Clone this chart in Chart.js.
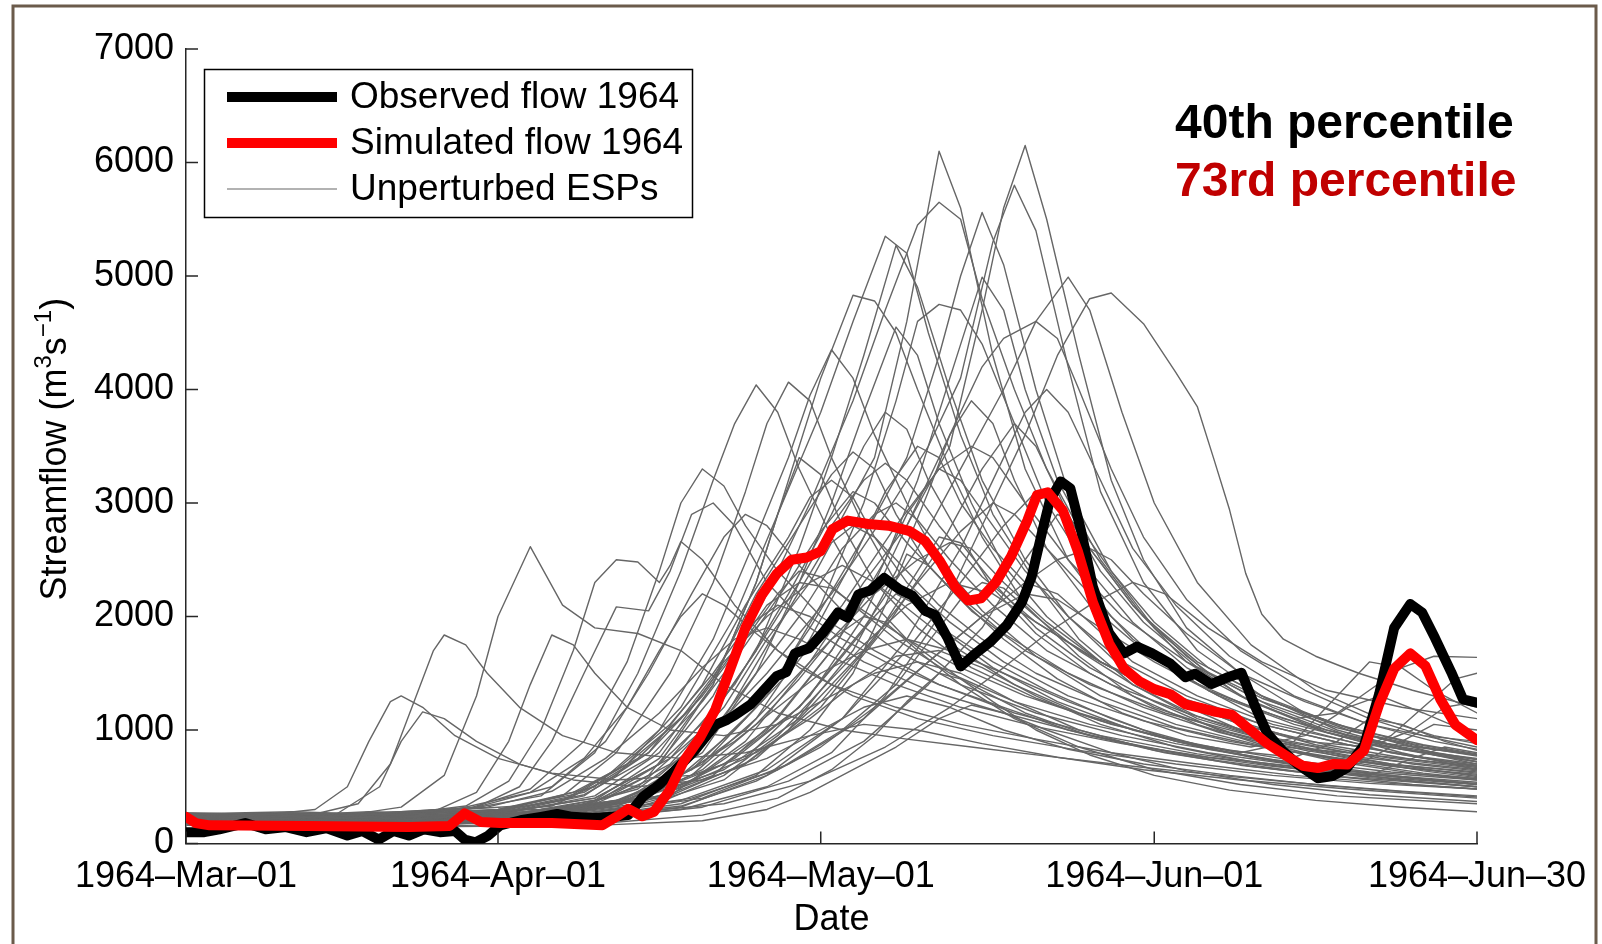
<!DOCTYPE html>
<html>
<head>
<meta charset="utf-8">
<script src="https://cdn.jsdelivr.net/npm/chart.js@4.4.0/dist/chart.umd.min.js"></script>
<style>
  html, body { margin: 0; padding: 0; background: #fff; }
  #wrap { width: 1602px; height: 944px; }
</style>
</head>
<body>
<div id="wrap"><canvas id="flow-chart" width="1602" height="944"></canvas></div>
<script>
// x values are days counted from the left edge of the plot
const xTickDays = [0, 29, 59, 90, 120];
const xTickLabels = ['1964–Mar–01', '1964–Apr–01', '1964–May–01', '1964–Jun–01', '1964–Jun–30'];
const yTicks = [0, 1000, 2000, 3000, 4000, 5000, 6000, 7000];

// observed flow 1964
const obsDays = [0, 1.7, 3.1, 5.5, 7.4, 9.3, 11.2, 13.1, 15, 16.4, 17.9, 19.3, 20.7, 22.1, 23.6, 25, 25.9, 26.9, 28.1, 29.2,
  31.1, 33, 34.5, 35.9, 37.8, 39.7, 41.1, 42.5, 44, 45.4, 47.3, 49.2, 50.3, 51.1, 52.5, 53.5, 54.9, 55.8, 56.6, 57.9,
  59.2, 60.6, 61.5, 62.5, 63.6, 64.9, 66.3, 67.5, 68.7, 69.6, 70.8, 72, 73.4, 74.8, 76.3, 77.7, 78.6, 79.6, 80.3, 81.3,
  82.2, 83.2, 84.3, 85.8, 87.2, 88.4, 89.8, 91.5, 92.9, 93.8, 95.3, 96.7, 98.1, 99.3, 100.5, 101.9, 103.3, 105.2, 106.6, 107.9,
  109.5, 110.9, 112.3, 113.8, 114.9, 116.1, 117.6, 118.7, 120];
const obsFlow = [100, 100, 125, 180, 125, 145, 100, 135, 70, 110, 35, 110, 70, 125, 100, 110, 35, 10, 70, 160,
  205, 235, 260, 235, 225, 235, 250, 415, 520, 640, 820, 1045, 1090, 1135, 1225, 1330, 1475, 1510, 1675, 1720,
  1855, 2035, 1990, 2195, 2230, 2340, 2240, 2185, 2050, 2015, 1810, 1560, 1675, 1780, 1925, 2125, 2350, 2755, 3025, 3190,
  3130, 2755, 2260, 1855, 1675, 1735, 1675, 1585, 1465, 1495, 1405, 1460, 1505, 1225, 970, 820, 700, 575, 595, 665,
  865, 1315, 1900, 2110, 2035, 1810, 1510, 1270, 1240];

// simulated flow 1964
const simDays = [0, 0.9, 2.2, 11.2, 20.7, 24.5, 25.9, 27.4, 29.2, 34, 38.7, 40, 41.1, 42.4, 43.5, 44.9, 46.3, 47.8, 49.2, 50.6,
  52, 53.5, 54.9, 56.3, 57.7, 59, 60.1, 61.5, 63.4, 65.3, 67.2, 68.7, 70.1, 71.5, 72.7, 73.9, 75.3, 76.7, 78.2, 79.1,
  80.1, 81.5, 82.9, 84.3, 85.8, 87.2, 88.6, 90, 91.5, 92.9, 94.3, 95.7, 97.2, 98.6, 100.5, 102.4, 103.8, 105.2, 106.6, 108,
  109.5, 110.9, 112.3, 113.8, 115.2, 116.6, 118, 120];
const simFlow = [235, 180, 160, 155, 145, 155, 265, 190, 180, 180, 160, 235, 305, 240, 280, 460, 730, 935, 1180, 1540,
  1900, 2185, 2375, 2500, 2520, 2575, 2770, 2845, 2815, 2800, 2755, 2665, 2485, 2260, 2140, 2160, 2305, 2530, 2845, 3070,
  3095, 2935, 2575, 2125, 1765, 1540, 1430, 1360, 1315, 1225, 1195, 1160, 1135, 1025, 880, 765, 685, 665, 700, 695,
  820, 1225, 1540, 1675, 1565, 1270, 1045, 910];

// unperturbed ESP traces, [day, flow] pairs
const espRuns = [
  [[0,210],[8,190],[16,230],[24,200],[32,260],[38,300],[44,520],[50,1100],[55,1900],[60,2700],[64,3400],[67,4600],[70,6100],[72,5600],[75,4300],[78,3300],[82,2500],[86,2000],[90,1650],[95,1350],[100,1100],[106,950],[112,800],[120,680]],
  [[0,180],[10,170],[20,200],[30,190],[38,240],[45,420],[52,900],[58,1600],[63,2300],[67,2800],[71,3500],[74,4700],[76,5600],[78,6150],[80,5500],[83,4300],[86,3200],[89,2500],[93,1900],[98,1500],[104,1150],[110,950],[116,800],[120,720]],
  [[0,240],[9,220],[18,260],[27,230],[35,300],[42,480],[48,900],[54,1500],[60,2200],[65,2900],[69,3500],[72,4100],[75,5300],[77,5800],[79,5400],[82,4200],[85,3100],[89,2300],[94,1700],[100,1300],[107,1000],[114,820],[120,700]],
  [[0,200],[10,220],[20,180],[30,250],[37,330],[43,600],[49,1300],[54,2200],[58,3000],[62,3900],[65,4700],[68,5450],[70,5650],[72,5500],[74,4800],[77,4000],[80,3300],[84,2600],[88,2100],[93,1600],[99,1250],[106,980],[113,800],[120,650]],
  [[0,260],[8,240],[17,280],[26,250],[34,330],[40,600],[46,1200],[51,2000],[55,2900],[59,3800],[62,4600],[65,5350],[67,5200],[69,4500],[72,3600],[75,2900],[79,2300],[83,1800],[88,1400],[94,1100],[101,900],[108,750],[115,640],[120,580]],
  [[0,190],[9,210],[18,190],[27,220],[35,280],[42,500],[48,1000],[53,1700],[57,2600],[60,3400],[63,4300],[66,5270],[68,4900],[71,4000],[74,3200],[78,2500],[82,2000],[87,1550],[92,1250],[98,1000],[105,820],[112,700],[120,590]],
  [[0,230],[11,210],[22,240],[32,280],[40,380],[47,650],[53,1200],[58,1900],[63,2700],[67,3400],[70,4300],[72,5000],[74,5560],[76,5100],[79,4000],[82,3100],[86,2400],[90,1900],[95,1500],[101,1200],[108,950],[115,800],[120,720]],
  [[0,200],[12,180],[24,210],[34,260],[42,400],[50,700],[57,1200],[63,1900],[68,2600],[72,3300],[76,4000],[79,4600],[82,4990],[84,4700],[87,3800],[90,3000],[94,2300],[99,1750],[105,1350],[111,1100],[116,950],[120,880]],
  [[0,170],[12,190],[24,170],[36,220],[46,300],[54,500],[60,800],[65,1300],[70,2000],[74,2800],[78,3600],[81,4300],[84,4800],[86,4850],[89,4580],[92,4150],[94,3850],[95.5,3400],[97,2940],[98.5,2380],[100,2020],[102,1800],[105,1650],[109,1500],[114,1350],[120,1200]],
  [[0,220],[10,240],[20,210],[30,260],[38,360],[44,700],[49,1400],[53,2300],[56,3200],[59,4100],[62,4830],[64,4780],[66,4500],[68,4000],[71,3300],[74,2700],[78,2100],[83,1650],[88,1300],[94,1050],[100,870],[107,720],[114,620],[120,560]],
  [[0,250],[9,230],[18,260],[26,300],[33,420],[38,800],[42,1500],[46,2400],[49,3200],[51,3700],[53,4040],[55,3800],[57,3300],[60,2700],[63,2200],[67,1800],[72,1450],[78,1150],[84,950],[91,800],[99,680],[107,590],[114,520],[120,480]],
  [[0,200],[10,190],[20,220],[28,270],[35,420],[40,800],[45,1500],[49,2300],[52,3100],[54,3700],[56,4065],[58,3900],[60,3400],[63,2800],[66,2300],[70,1900],[75,1550],[81,1250],[88,1000],[95,830],[103,700],[111,600],[120,520]],
  [[0,270],[11,250],[22,280],[31,330],[38,500],[44,1000],[49,1800],[53,2700],[56,3400],[58,3950],[60,4350],[62,4100],[64,3600],[67,3000],[70,2500],[74,2050],[79,1650],[85,1300],[92,1050],[100,860],[108,720],[115,620],[120,570]],
  [[0,190],[10,210],[21,190],[31,240],[40,330],[47,550],[54,1000],[60,1700],[65,2500],[68,3200],[71,4100],[74,4990],[76,4700],[78,4000],[81,3200],[85,2500],[89,2000],[94,1600],[100,1300],[107,1050],[114,880],[120,780]],
  [[0,230],[12,210],[24,250],[35,290],[44,420],[52,750],[58,1300],[63,2000],[67,2800],[71,3600],[74,4200],[76,4450],[79,4600],[81,4450],[83,4000],[86,3300],[89,2700],[93,2150],[98,1700],[104,1350],[110,1100],[115,950],[120,850]],
  [[0,210],[11,230],[22,200],[33,260],[41,380],[48,700],[54,1300],[59,2100],[63,3000],[66,3900],[68,4600],[70,4750],[72,4700],[74,4400],[77,3700],[80,3000],[84,2400],[88,1950],[93,1550],[99,1250],[106,1000],[113,850],[120,740]],
  [[0,240],[10,260],[20,230],[30,280],[38,400],[45,750],[51,1400],[56,2200],[60,2900],[63,3500],[65,3800],[67,3650],[69,3200],[72,2700],[75,2250],[79,1850],[84,1500],[90,1200],[97,980],[104,820],[112,700],[120,620]],
  [[0,170],[12,190],[24,170],[36,210],[46,320],[54,600],[61,1100],[67,1800],[72,2600],[76,3400],[78,3800],[80,4000],[82,3800],[85,3200],[88,2600],[92,2100],[97,1650],[103,1300],[110,1050],[116,900],[120,830]],
  [[0,230],[8,210],[15,250],[20,320],[24,600],[27,1300],[29,2000],[32,2615],[35,2100],[38,1900],[42,1850],[46,1700],[50,1400],[55,1150],[61,1000],[67,920],[73,850],[80,770],[88,680],[96,600],[105,520],[113,460],[120,420]],
  [[0,250],[6,230],[12,260],[16,350],[19,700],[21,1200],[23,1700],[24,1837],[26,1750],[28,1500],[31,1200],[35,950],[40,800],[46,750],[52,800],[58,950],[63,1050],[68,1000],[74,880],[81,760],[89,650],[98,560],[108,480],[120,400]],
  [[0,200],[8,220],[14,260],[18,500],[20,900],[22,1160],[24,1100],[27,900],[31,700],[36,560],[42,500],[48,560],[54,750],[59,1000],[63,1200],[67,1300],[71,1200],[76,1000],[82,830],[89,700],[97,600],[106,510],[114,450],[120,410]],
  [[0,220],[9,240],[17,220],[23,280],[27,450],[30,900],[32,1400],[34,1837],[36,1750],[38,1500],[41,1200],[45,1000],[50,950],[55,1050],[60,1300],[64,1500],[68,1600],[72,1500],[77,1250],[83,1000],[90,820],[98,690],[107,590],[120,500]],
  [[0,210],[10,230],[20,260],[26,330],[30,550],[33,1000],[36,1700],[38,2300],[40,2500],[42,2480],[44,2300],[45,2450],[46,2660],[48,2500],[51,2100],[55,1700],[60,1400],[66,1200],[72,1050],[79,920],[86,800],[94,700],[103,600],[112,530],[120,480]],
  [[0,240],[10,220],[20,250],[27,320],[31,500],[34,900],[37,1500],[40,2085],[43,2050],[45,2400],[47,2900],[49,3000],[51,2800],[54,2300],[58,1900],[63,1600],[69,1350],[76,1150],[84,950],[92,800],[101,680],[110,590],[120,520]],
  [[0,230],[7,250],[12,300],[15,500],[17,900],[19,1250],[20,1300],[22,1200],[25,950],[29,750],[34,620],[40,560],[47,600],[53,800],[58,1100],[62,1400],[66,1650],[70,1700],[74,1550],[79,1300],[85,1050],[92,850],[100,700],[110,580],[120,500]],
  [[0,200],[12,220],[24,200],[34,250],[42,350],[49,600],[55,1100],[60,1700],[64,2300],[67,2900],[70,3300],[72,3200],[75,2800],[78,2400],[82,2000],[87,1600],[93,1300],[100,1050],[108,870],[115,760],[120,700]],
  [[0,260],[11,240],[22,270],[33,300],[42,400],[50,650],[57,1100],[63,1700],[68,2300],[72,2750],[75,3000],[77,2900],[80,2600],[84,2200],[88,1800],[93,1450],[99,1200],[106,980],[113,830],[120,740]],
  [[0,190],[10,170],[20,200],[31,230],[40,330],[47,600],[53,1100],[58,1800],[62,2500],[65,3100],[68,3500],[70,3400],[72,3000],[75,2600],[78,2300],[81,2200],[84,1950],[88,1600],[94,1300],[101,1050],[109,880],[120,750]],
  [[0,220],[11,240],[21,220],[31,270],[39,400],[45,700],[50,1200],[54,1800],[58,2300],[60,2650],[62,2800],[64,2700],[67,2400],[70,2100],[74,1800],[79,1500],[85,1250],[92,1020],[100,850],[109,720],[120,630]],
  [[0,180],[11,200],[22,180],[33,230],[42,320],[50,560],[56,1000],[62,1700],[66,2400],[69,3100],[71,3600],[73,3900],[75,3700],[77,3200],[80,2600],[84,2100],[89,1700],[95,1350],[102,1100],[110,900],[120,780]],
  [[0,250],[10,270],[20,250],[29,300],[37,450],[43,800],[48,1300],[52,1800],[55,2200],[57,2400],[59,2350],[62,2100],[66,1800],[71,1500],[77,1250],[84,1050],[92,880],[101,740],[110,630],[120,560]],
  [[0,210],[9,190],[19,220],[29,260],[37,420],[43,800],[48,1400],[52,2100],[56,2700],[58,3050],[60,3200],[62,3050],[64,2700],[67,2300],[71,1950],[76,1600],[82,1300],[89,1080],[97,900],[106,760],[114,660],[120,610]],
  [[0,230],[12,210],[24,240],[35,280],[44,420],[51,750],[57,1200],[61,1650],[64,2000],[66,2200],[68,2100],[71,1850],[75,1600],[80,1350],[86,1100],[92,900],[98,800],[103,900],[107,1300],[110,1600],[113,1550],[116,1350],[120,1150]],
  [[0,200],[13,180],[26,210],[38,260],[48,400],[56,700],[63,1100],[69,1600],[74,2000],[78,2300],[81,2500],[84,2600],[86,2500],[89,2200],[93,1850],[98,1500],[104,1250],[110,1050],[115,950],[120,900]],
  [[0,240],[12,220],[24,250],[35,290],[44,400],[52,700],[59,1200],[65,1900],[70,2600],[74,3300],[77,3700],[79,3500],[82,2900],[85,2400],[89,1950],[94,1550],[100,1250],[107,1020],[114,860],[120,770]],
  [[0,260],[9,240],[18,270],[27,320],[34,500],[39,900],[43,1500],[47,2200],[50,2700],[52,2900],[54,2800],[57,2450],[61,2050],[66,1700],[72,1400],[79,1150],[87,950],[95,800],[104,680],[113,590],[120,540]],
  [[0,190],[10,210],[20,190],[30,240],[38,380],[44,750],[49,1400],[53,2300],[55,2900],[57,3400],[59,3250],[61,2800],[64,2300],[68,1900],[73,1550],[79,1280],[86,1050],[94,870],[103,730],[112,630],[120,570]],
  [[0,210],[12,230],[25,210],[37,260],[47,400],[55,650],[61,1000],[66,1400],[70,1900],[72,2150],[74,2300],[76,2250],[79,2000],[83,1700],[88,1400],[94,1120],[101,900],[109,760],[120,650]],
  [[0,170],[12,160],[25,150],[38,160],[48,200],[54,300],[58,450],[62,650],[66,850],[70,1100],[73,1220],[76,1150],[80,1000],[86,800],[93,640],[101,520],[110,430],[120,370]],
  [[0,160],[13,150],[26,160],[39,180],[48,250],[55,400],[60,650],[64,950],[67,1250],[70,1500],[72,1450],[75,1250],[79,1000],[84,780],[90,600],[97,470],[105,380],[113,320],[120,280]],
  [[0,200],[11,180],[23,200],[34,240],[42,380],[48,650],[53,1050],[57,1450],[60,1800],[63,2000],[65,1950],[68,1700],[72,1400],[77,1100],[83,850],[90,650],[98,520],[107,420],[120,350]],
  [[0,220],[12,240],[24,220],[36,270],[46,380],[54,650],[61,1100],[67,1700],[72,2300],[76,2800],[79,3100],[81,3000],[84,2600],[88,2100],[93,1650],[98,1300],[103,1100],[107,1150],[110,1350],[113,1550],[116,1650],[120,1640]],
  [[0,240],[12,220],[24,240],[36,290],[45,420],[53,750],[59,1250],[64,1800],[68,2400],[70,2700],[72,2650],[75,2300],[79,1900],[84,1550],[90,1250],[96,1000],[102,850],[108,800],[112,950],[115,1200],[118,1450],[120,1500]],
  [[0,230],[10,210],[20,240],[30,270],[38,420],[44,800],[49,1450],[53,2200],[57,2800],[60,3250],[62,3450],[64,3300],[66,2900],[69,2450],[73,2050],[78,1700],[84,1400],[91,1150],[99,950],[108,800],[120,680]],
  [[0,250],[9,270],[18,250],[25,300],[32,450],[37,750],[41,1200],[44,1700],[46,2000],[48,2200],[50,2100],[53,1850],[57,1550],[62,1300],[68,1100],[75,950],[83,820],[92,700],[101,600],[110,530],[120,480]],
  [[0,190],[12,200],[25,180],[37,230],[46,350],[53,600],[58,1000],[62,1500],[65,2100],[67,2550],[69,2450],[72,2150],[76,1800],[81,1450],[87,1150],[93,950],[99,850],[104,950],[108,1200],[111,1300],[115,1150],[120,950]],
  [[0,220],[11,200],[22,230],[33,260],[41,400],[48,800],[53,1500],[57,2300],[60,3000],[63,3800],[66,4550],[68,4300],[70,3700],[73,3000],[76,2450],[80,2000],[85,1600],[91,1300],[98,1050],[106,870],[114,740],[120,670]],
  [[0,240],[9,220],[18,250],[26,300],[32,480],[37,900],[41,1600],[44,2400],[46,3000],[48,3300],[50,3150],[52,2800],[55,2400],[59,2000],[64,1700],[70,1400],[77,1150],[85,950],[94,790],[104,660],[113,580],[120,530]],
  [[0,210],[13,230],[26,210],[39,250],[50,350],[58,550],[65,850],[71,1200],[76,1550],[80,1850],[84,2100],[88,2300],[91,2200],[95,1900],[100,1600],[106,1350],[113,1200],[120,1100]],
  [[0,180],[13,200],[26,180],[38,220],[48,320],[56,550],[63,900],[69,1400],[74,1900],[78,2500],[81,2900],[83,2800],[86,2400],[90,1950],[95,1550],[101,1250],[108,1000],[115,850],[120,780]],
  [[0,260],[10,280],[20,250],[30,300],[36,420],[41,700],[46,1100],[50,1600],[54,2000],[58,2300],[61,2450],[64,2300],[68,2000],[72,1700],[77,1400],[83,1150],[90,950],[97,820],[103,760],[107,900],[110,1100],[113,1050],[117,900],[120,820]],
  [[0,200],[10,180],[20,210],[30,250],[38,350],[44,600],[49,1000],[53,1500],[57,2000],[61,2600],[64,2900],[66,3000],[68,2850],[71,2500],[75,2100],[80,1700],[86,1400],[93,1150],[100,950],[107,820],[114,700],[120,640]],
  [[0,230],[9,250],[19,230],[28,280],[35,380],[40,650],[45,1050],[49,1500],[52,1900],[55,2100],[58,2000],[61,1800],[65,1600],[70,1400],[76,1200],[82,1000],[89,850],[96,730],[103,640],[110,600],[114,750],[117,850],[120,800]],
  [[0,210],[11,230],[22,210],[33,260],[41,380],[47,650],[52,1000],[56,1400],[60,1800],[64,2200],[68,2500],[71,2650],[73,2600],[76,2300],[80,1950],[85,1600],[91,1300],[98,1050],[105,870],[112,750],[120,660]],
  [[0,250],[10,230],[20,260],[29,300],[36,450],[42,750],[47,1200],[51,1700],[54,2100],[57,2300],[60,2250],[63,2050],[67,1800],[72,1550],[78,1300],[85,1080],[92,900],[99,760],[106,650],[113,560],[120,500]],
  [[0,190],[12,210],[24,190],[35,240],[44,360],[50,600],[55,950],[59,1350],[63,1750],[67,2100],[71,2300],[75,2200],[79,1950],[84,1650],[90,1350],[97,1100],[104,900],[110,850],[114,1000],[117,1200],[120,1250]],
  [[0,240],[10,260],[20,240],[30,290],[37,430],[43,750],[48,1250],[52,1750],[56,2300],[59,2750],[62,3100],[64,3000],[67,2650],[71,2250],[76,1850],[82,1500],[89,1200],[96,980],[104,800],[112,680],[120,600]],
  [[0,220],[11,200],[22,230],[32,260],[40,370],[46,600],[51,900],[55,1200],[59,1500],[63,1700],[67,1800],[71,1700],[76,1500],[82,1250],[89,1000],[96,820],[103,700],[110,620],[116,560],[120,520]],
  [[0,200],[11,220],[22,200],[32,240],[40,350],[46,600],[51,1000],[56,1500],[61,2100],[66,2800],[70,3300],[73,3500],[75,3400],[78,3000],[82,2500],[87,2000],[93,1600],[100,1280],[108,1020],[115,870],[120,790]],
  [[0,270],[10,250],[20,280],[28,320],[34,460],[39,750],[44,1150],[48,1550],[51,1800],[54,1900],[57,1800],[61,1600],[66,1400],[72,1200],[79,1030],[87,880],[95,760],[103,680],[109,700],[113,900],[116,1050],[120,1000]],
  [[0,180],[12,170],[24,190],[36,220],[46,330],[53,550],[59,850],[64,1200],[69,1600],[74,2000],[78,2200],[81,2150],[85,1900],[90,1600],[96,1300],[103,1050],[110,880],[116,780],[120,720]],
  [[0,230],[10,210],[20,240],[30,280],[38,400],[44,700],[49,1150],[53,1700],[57,2300],[60,2800],[63,3200],[65,3350],[67,3200],[70,2800],[74,2350],[79,1950],[85,1600],[92,1300],[100,1050],[108,870],[115,750],[120,690]]
];

const FONT = "'Liberation Sans', Arial, Helvetica, sans-serif";

function toPoints(days, flows) {
  return days.map((d, i) => ({ x: d, y: flows[i] }));
}

const simSet = {
  label: 'Simulated flow 1964',
  data: toPoints(simDays, simFlow),
  borderColor: '#ff0000',
  borderWidth: 10
};
const obsSet = {
  label: 'Observed flow 1964',
  data: toPoints(obsDays, obsFlow),
  borderColor: '#000000',
  borderWidth: 10
};
const espSets = espRuns.map(run => ({
  label: 'Unperturbed ESPs',
  data: run.map(p => ({ x: p[0], y: p[1] })),
  borderColor: '#666666',
  borderWidth: 1.4
}));

// inward ticks, legend box, labels and the frame
const decor = {
  id: 'decor',
  beforeDraw(chart) {
    const ctx = chart.ctx;
    ctx.save();
    ctx.fillStyle = '#fff';
    ctx.fillRect(0, 0, chart.width, chart.height);
    ctx.restore();
  },
  afterDraw(chart) {
    const { ctx, chartArea } = chart;
    const xs = chart.scales.x, ys = chart.scales.y;
    ctx.save();

    // tick marks pointing into the plot
    ctx.strokeStyle = '#262626';
    ctx.lineWidth = 1.5;
    ctx.beginPath();
    yTicks.forEach(v => {
      const py = ys.getPixelForValue(v);
      ctx.moveTo(chartArea.left, py);
      ctx.lineTo(chartArea.left + 12, py);
    });
    xTickDays.forEach(d => {
      const px = xs.getPixelForValue(d);
      ctx.moveTo(px, chartArea.bottom);
      ctx.lineTo(px, chartArea.bottom - 12);
    });
    ctx.stroke();

    // legend
    const rows = [obsSet, simSet, espSets[0]];
    ctx.fillStyle = '#fff';
    ctx.fillRect(204, 69, 488, 148);
    ctx.strokeStyle = '#000';
    ctx.lineWidth = 1.5;
    ctx.strokeRect(204.5, 69.5, 488, 148);
    ctx.font = '37px ' + FONT;
    ctx.textBaseline = 'middle';
    ctx.textAlign = 'left';
    rows.forEach((ds, i) => {
      const ry = 97 + i * 46;
      ctx.strokeStyle = ds.borderColor;
      ctx.lineWidth = ds.borderWidth === 1.4 ? 1.2 : ds.borderWidth;
      ctx.lineCap = 'butt';
      ctx.beginPath();
      ctx.moveTo(227, ry);
      ctx.lineTo(337, ry);
      ctx.stroke();
      ctx.fillStyle = '#000';
      ctx.fillText(ds.label, 350, ry + 1);
    });

    // percentile notes
    ctx.font = 'bold 48px ' + FONT;
    ctx.fillStyle = '#000';
    ctx.fillText('40th percentile', 1175, 125);
    ctx.fillStyle = '#c00000';
    ctx.fillText('73rd percentile', 1175, 183);

    // axis titles
    ctx.fillStyle = '#000';
    ctx.font = '36px ' + FONT;
    ctx.textAlign = 'center';
    ctx.fillText('Date', (chartArea.left + chartArea.right) / 2, 920);

    const parts = [
      { t: 'Streamflow (m', size: 36, rise: 0 },
      { t: '3', size: 24, rise: 15 },
      { t: 's', size: 36, rise: 0 },
      { t: '−1', size: 24, rise: 15 },
      { t: ')', size: 36, rise: 0 }
    ];
    let total = 0;
    parts.forEach(p => { ctx.font = p.size + 'px ' + FONT; p.w = ctx.measureText(p.t).width; total += p.w; });
    ctx.translate(66, (chartArea.top + chartArea.bottom) / 2 + 3);
    ctx.rotate(-Math.PI / 2);
    ctx.textAlign = 'left';
    ctx.textBaseline = 'alphabetic';
    let u = -total / 2;
    parts.forEach(p => {
      ctx.font = p.size + 'px ' + FONT;
      ctx.fillText(p.t, u, -p.rise);
      u += p.w;
    });
    ctx.setTransform(1, 0, 0, 1, 0, 0);

    // picture frame
    ctx.strokeStyle = '#6b5b4b';
    ctx.lineWidth = 3;
    ctx.beginPath();
    ctx.moveTo(13, 944);
    ctx.lineTo(13, 6);
    ctx.lineTo(1596, 6);
    ctx.lineTo(1596, 944);
    ctx.stroke();
    ctx.restore();
  }
};

const config = {
  type: 'line',
  data: { datasets: [simSet, obsSet, ...espSets] },
  options: {
    responsive: false,
    animation: false,
    events: [],
    layout: { padding: { top: 49, right: 125, left: 0, bottom: 0 } },
    elements: {
      point: { radius: 0 },
      line: { tension: 0, borderJoinStyle: 'round', borderCapStyle: 'round' }
    },
    plugins: { legend: { display: false }, tooltip: { enabled: false } },
    scales: {
      x: {
        type: 'linear',
        min: 0,
        max: 120,
        afterBuildTicks: s => { s.ticks = xTickDays.map(v => ({ value: v })); },
        afterFit: s => { s.height = 100.5; },
        grid: { display: false, drawTicks: false },
        border: { display: true, color: '#262626', width: 1.5 },
        ticks: {
          autoSkip: false, maxRotation: 0, minRotation: 0, padding: 12,
          color: '#000', font: { family: FONT, size: 36 },
          callback: (v, i) => xTickLabels[i]
        }
      },
      y: {
        min: 0,
        max: 7000,
        afterBuildTicks: s => { s.ticks = yTicks.map(v => ({ value: v })); },
        afterFit: s => { s.width = 186; },
        grid: { display: false, drawTicks: false },
        border: { display: true, color: '#262626', width: 1.5 },
        ticks: {
          padding: 12, color: '#000', font: { family: FONT, size: 36 },
          callback: v => String(v)
        }
      }
    }
  },
  plugins: [decor]
};

new Chart(document.getElementById('flow-chart').getContext('2d'), config);
</script>
</body>
</html>
